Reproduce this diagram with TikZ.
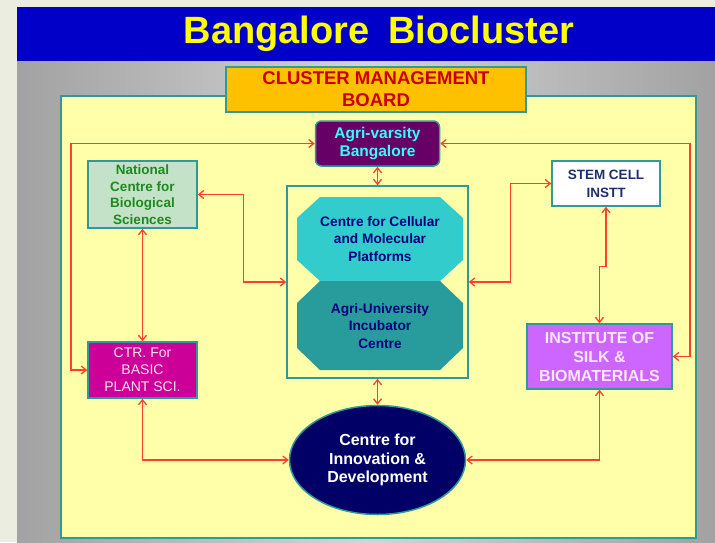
\documentclass[tikz,border=0pt]{standalone}
\usepackage{fontspec}
\setmainfont{Liberation Sans}
\usepackage{xcolor}
\usetikzlibrary{shapes.geometric,arrows.meta}
\definecolor{slidebg}{HTML}{EBEDE0}
\definecolor{slidegray}{HTML}{A2A2A2}
\definecolor{slidelight}{HTML}{D4D4D4}
\definecolor{titleblue}{HTML}{0000C8}
\definecolor{titleyellow}{HTML}{FFFF00}
\definecolor{panelyellow}{HTML}{FFFFAA}
\definecolor{panelrim}{HTML}{2E9A9A}
\definecolor{boardorange}{HTML}{FFC000}
\definecolor{boardred}{HTML}{C80000}
\definecolor{agripurple}{HTML}{660066}
\definecolor{agricyan}{HTML}{33FFFF}
\definecolor{ncbsgreen}{HTML}{C4E2C8}
\definecolor{ncbstext}{HTML}{1E8A1E}
\definecolor{ctrpink}{HTML}{CC0099}
\definecolor{ctrtext}{HTML}{FFE0F0}
\definecolor{cellcyan}{HTML}{33CCCC}
\definecolor{incubteal}{HTML}{289C9C}
\definecolor{deepnavy}{HTML}{000080}
\definecolor{stemnavy}{HTML}{1F2F6E}
\definecolor{silkviolet}{HTML}{CC66FF}
\definecolor{silktext}{HTML}{FFE8FF}
\definecolor{cidnavy}{HTML}{000066}
\definecolor{linkred}{HTML}{FF4030}

\begin{document}
\begin{tikzpicture}[x=1pt,y=-1pt,
 box/.style={draw=panelrim, line width=1.5pt, align=center, inner sep=0pt, font=\bfseries\fontsize{13.5}{16.5}\selectfont},
 octotext/.style={align=center, inner sep=0pt, text=deepnavy, font=\bfseries\fontsize{13.7}{17.5}\selectfont},
 link/.style={draw=linkred, line width=1.3pt, {Straight Barb[length=5pt,width=8pt]}-{Straight Barb[length=5pt,width=8pt]}}]
\fill[slidebg] (0,0) rectangle (715,542);
\shade[left color=slidegray, right color=slidegray, middle color=slidelight] (17,61) rectangle (715,542);
\fill[titleblue] (17,7) rectangle (715,61);
\node[text=titleyellow, font=\bfseries\fontsize{38}{42}\selectfont] (title) at (379,34) {Bangalore\hspace{0.5em}Biocluster};
\draw[panelrim, line width=1.5pt, fill=panelyellow] (61,96) rectangle (696,538);

\node[box, fill=boardorange, text=boardred, minimum width=300pt, minimum height=45pt, font=\bfseries\fontsize{18.5}{22}\selectfont] (board) at (376,89.5) {CLUSTER MANAGEMENT\\BOARD};
\node[box, rounded corners=6pt, fill=agripurple, text=agricyan, minimum width=124pt, minimum height=45pt, font=\bfseries\fontsize{15.5}{18}\selectfont] (agri) at (377.5,143.5) {Agri-varsity\\Bangalore};
\node[box, fill=ncbsgreen, text=ncbstext, minimum width=109pt, minimum height=67pt] (ncbs) at (142.5,194.5) {National\\Centre for\\Biological\\Sciences};
\node[box, fill=ctrpink, text=ctrtext, minimum width=109pt, minimum height=56pt, font=\fontsize{14}{17}\selectfont] (ctr) at (142.5,370) {CTR. For\\BASIC\\PLANT SCI.};
\node[box, fill=panelyellow, minimum width=181pt, minimum height=192pt] (hub) at (377.5,282) {};
\fill[cellcyan] (320,197) -- (440,197) -- (463,218) -- (463,260) -- (440,281) -- (320,281) -- (297,260) -- (297,218) -- cycle;
\fill[incubteal] (320,281) -- (440,281) -- (463,303) -- (463,348) -- (440,370) -- (320,370) -- (297,348) -- (297,303) -- cycle;
\node[octotext] (cell) at (380,239) {Centre for Cellular\\and Molecular\\Platforms};
\node[octotext] (incub) at (380,326) {Agri-University\\Incubator\\Centre};
\node[box, fill=white, text=stemnavy, minimum width=108pt, minimum height=45pt, font=\bfseries\fontsize{13.5}{18}\selectfont] (stem) at (606,183.5) {STEM CELL\\INSTT};
\node[box, fill=silkviolet, text=silktext, minimum width=145pt, minimum height=65pt, font=\bfseries\fontsize{16}{19}\selectfont] (silk) at (599.5,356.5) {INSTITUTE OF\\SILK \&\\BIOMATERIALS};
\node[box, ellipse, fill=cidnavy, text=white, minimum width=176pt, minimum height=109pt, font=\bfseries\fontsize{16}{18.5}\selectfont] (cid) at (377.5,460) {Centre for\\Innovation \&\\Development};

\coordinate (westrail) at (71,143.5);
\coordinate (eastrail) at (690,143.5);
\draw[link] (agri.west) -- (westrail) |- (ctr.west);
\draw[link] (agri.east) -- (eastrail) |- (silk.east);
\draw[link] (ncbs.east) -- ++(46,0) |- (hub.west);
\draw[link] (ncbs.south) -- (ctr.north);
\draw[link] (ctr.south) |- (cid.west);
\draw[link] (agri.south) -- (hub.north);
\draw[link] (hub.south) -- (cid.north);
\draw[link] (hub.east) -- ++(42,0) |- (stem.west);
\draw[link] (stem.south) -- ++(0,60) -| (silk.north);
\draw[link] (silk.south) |- (cid.east);
\end{tikzpicture}
\end{document}
